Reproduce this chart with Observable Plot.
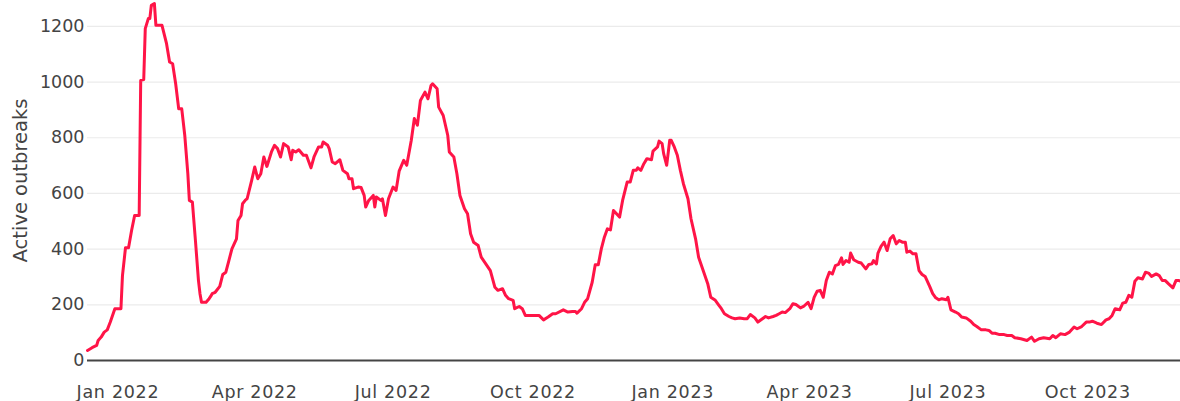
<!DOCTYPE html>
<html><head><meta charset="utf-8">
<script src="https://cdn.jsdelivr.net/npm/d3@7"></script>
<script src="https://cdn.jsdelivr.net/npm/@observablehq/plot@0.6"></script>
<style>html,body{margin:0;padding:0;background:#fff} svg{display:block}
g[aria-label="x-axis tick label"] text{letter-spacing:0.7px}</style>
</head><body><div id="chart"></div>
<script>
const dates = [
"2021-12-12","2021-12-15","2021-12-18","2021-12-19","2021-12-21","2021-12-23","2021-12-25","2021-12-27","2021-12-30",
"2022-01-03","2022-01-04","2022-01-06","2022-01-08","2022-01-10","2022-01-12","2022-01-15","2022-01-16","2022-01-18","2022-01-19","2022-01-21","2022-01-22","2022-01-23","2022-01-25","2022-01-26","2022-01-30",
"2022-02-02","2022-02-04","2022-02-06","2022-02-08","2022-02-10","2022-02-12","2022-02-14","2022-02-16","2022-02-17","2022-02-19","2022-02-21","2022-02-23","2022-02-24","2022-02-25","2022-02-28",
"2022-03-02","2022-03-03","2022-03-04","2022-03-06","2022-03-09","2022-03-11","2022-03-13","2022-03-15","2022-03-17","2022-03-20","2022-03-21","2022-03-23","2022-03-24","2022-03-26","2022-03-27","2022-03-30",
"2022-04-01","2022-04-03","2022-04-05","2022-04-07","2022-04-09","2022-04-12","2022-04-14","2022-04-16","2022-04-18","2022-04-20","2022-04-23","2022-04-25","2022-04-26","2022-04-28","2022-04-30",
"2022-05-03","2022-05-05","2022-05-08","2022-05-10","2022-05-13","2022-05-15","2022-05-16","2022-05-19","2022-05-20","2022-05-22","2022-05-24","2022-05-27","2022-05-29",
"2022-06-01","2022-06-02","2022-06-04","2022-06-05","2022-06-08","2022-06-10","2022-06-12","2022-06-13","2022-06-15","2022-06-18","2022-06-19","2022-06-20","2022-06-23","2022-06-24","2022-06-26","2022-06-28",
"2022-07-01","2022-07-03","2022-07-05","2022-07-08","2022-07-10","2022-07-13","2022-07-15","2022-07-17","2022-07-19","2022-07-22","2022-07-24","2022-07-26","2022-07-27","2022-07-30","2022-07-31",
"2022-08-03","2022-08-06","2022-08-07","2022-08-10","2022-08-12","2022-08-14","2022-08-17","2022-08-19","2022-08-21","2022-08-23","2022-08-26","2022-08-28","2022-08-31",
"2022-09-03","2022-09-06","2022-09-08","2022-09-11","2022-09-13","2022-09-15","2022-09-18","2022-09-19","2022-09-22","2022-09-24","2022-09-26","2022-09-30",
"2022-10-03","2022-10-05","2022-10-08","2022-10-11","2022-10-14","2022-10-16","2022-10-21","2022-10-24","2022-10-27","2022-10-29","2022-10-30",
"2022-11-02","2022-11-04","2022-11-06","2022-11-09","2022-11-11","2022-11-13","2022-11-15","2022-11-17","2022-11-19","2022-11-21","2022-11-23","2022-11-25","2022-11-27","2022-11-29",
"2022-12-02","2022-12-04","2022-12-06","2022-12-08","2022-12-09","2022-12-11","2022-12-13","2022-12-15","2022-12-18","2022-12-19","2022-12-22","2022-12-23","2022-12-25","2022-12-26","2022-12-28","2022-12-30","2022-12-31",
"2023-01-02","2023-01-04","2023-01-06","2023-01-08","2023-01-11","2023-01-13","2023-01-16","2023-01-18","2023-01-21","2023-01-24","2023-01-26","2023-01-29","2023-01-31",
"2023-02-02","2023-02-04","2023-02-07","2023-02-09","2023-02-11","2023-02-14","2023-02-17","2023-02-19","2023-02-21","2023-02-24","2023-02-26",
"2023-03-01","2023-03-03","2023-03-05","2023-03-08","2023-03-10","2023-03-12","2023-03-14","2023-03-16","2023-03-19","2023-03-21","2023-03-23","2023-03-26","2023-03-28","2023-03-31",
"2023-04-02","2023-04-04","2023-04-06","2023-04-08","2023-04-10","2023-04-12","2023-04-14","2023-04-16","2023-04-18","2023-04-20","2023-04-22","2023-04-23","2023-04-25","2023-04-27","2023-04-28","2023-04-30",
"2023-05-03","2023-05-05","2023-05-08","2023-05-10","2023-05-12","2023-05-13","2023-05-15","2023-05-16","2023-05-18","2023-05-20","2023-05-22","2023-05-24","2023-05-26","2023-05-28","2023-05-30",
"2023-06-01","2023-06-03","2023-06-04","2023-06-06","2023-06-08","2023-06-10","2023-06-12","2023-06-14","2023-06-16","2023-06-19","2023-06-21","2023-06-23","2023-06-25","2023-06-27","2023-06-30",
"2023-07-01","2023-07-03","2023-07-06","2023-07-08","2023-07-10","2023-07-13","2023-07-16","2023-07-18","2023-07-20","2023-07-23","2023-07-26","2023-07-28","2023-07-30",
"2023-08-01","2023-08-04","2023-08-07","2023-08-09","2023-08-12","2023-08-14","2023-08-18","2023-08-22","2023-08-25","2023-08-27","2023-08-30",
"2023-09-02","2023-09-06","2023-09-08","2023-09-10","2023-09-13","2023-09-16","2023-09-19","2023-09-22","2023-09-24","2023-09-27","2023-09-30",
"2023-10-02","2023-10-04","2023-10-07","2023-10-10","2023-10-13","2023-10-15","2023-10-17","2023-10-19","2023-10-22","2023-10-24","2023-10-26","2023-10-28","2023-10-30",
"2023-11-01","2023-11-03","2023-11-06","2023-11-08","2023-11-10","2023-11-12","2023-11-15","2023-11-17","2023-11-19","2023-11-21","2023-11-23","2023-11-26","2023-11-28","2023-11-30","2023-12-01"
];
const activeOutbreaks = [
36,46,54,72,84,102,110,138,186,
186,305,405,405,467,521,521,1006,1009,1192,1228,1228,1276,1282,1204,1204,
1138,1072,1066,994,904,904,808,671,575,569,431,287,240,209,209,
222,230,240,245,266,309,317,359,401,437,503,521,563,577,581,647,
695,653,671,731,697,749,773,761,731,779,767,721,755,749,757,
737,737,692,731,767,767,785,773,761,713,707,721,683,
671,653,653,617,623,621,593,551,575,593,551,587,575,581,521,581,
623,611,680,719,701,791,869,845,934,964,940,988,994,976,910,
880,808,749,731,671,593,545,527,455,425,413,371,347,
323,263,252,258,234,222,216,186,194,186,162,162,
162,162,146,156,168,168,182,174,176,176,170,
186,209,222,281,344,344,401,443,473,469,539,527,515,575,
641,641,683,683,692,683,707,725,721,752,767,788,779,743,701,791,791,
767,737,683,635,581,509,437,371,323,276,227,216,201,
186,168,158,153,150,153,150,150,165,153,138,
150,158,153,158,162,168,174,172,186,204,201,189,194,209,
186,227,249,252,227,287,317,311,341,345,369,345,359,353,386,362,
353,350,329,345,347,359,347,386,410,425,395,437,449,419,431,
425,425,389,393,383,383,323,309,302,266,240,225,218,222,218,
227,182,174,168,156,153,141,129,122,110,110,108,98,
98,93,93,90,90,82,78,72,84,69,78,
82,78,90,82,96,93,102,120,114,122,138,
138,141,134,129,146,150,162,186,182,206,209,234,227,
285,297,293,317,314,302,311,305,287,287,276,261,287,287,285
];
const yTicks = [0, 200, 400, 600, 800, 1000, 1200];
const xTicks = ["2022-01-01","2022-04-01","2022-07-01","2022-10-01","2023-01-01","2023-04-01","2023-07-01","2023-10-01"];
const yLabel = "Active outbreaks";

const data = dates.map((d, i) => ({date: new Date(d), value: activeOutbreaks[i]}));
const font = "'DejaVu Sans', Verdana, sans-serif";

const chart = Plot.plot({
  width: 1180, height: 401,
  marginLeft: 87, marginRight: 0, marginTop: 0, marginBottom: 41,
  style: {fontFamily: font, fontSize: "17.5px", color: "#444", background: "#fff", overflow: "visible"},
  x: {type: "utc", domain: [new Date("2021-12-12"), new Date("2023-12-01")]},
  y: {domain: [0, 1293]},
  marks: [
    Plot.gridY(yTicks.filter(d => d > 0), {stroke: "#ebebeb", strokeOpacity: 1, strokeWidth: 1.2}),
    Plot.axisY(yTicks, {tickSize: 0, tickPadding: 3, label: null, tickFormat: d => String(d), fontSize: 17.5, fill: "#444"}),
    Plot.axisX(xTicks.map(d => new Date(d)), {tickSize: 0, tickPadding: 25, label: null, tickFormat: d3.utcFormat("%b %Y"), fontSize: 17.5, fill: "#444"}),
    Plot.text([yLabel], {frameAnchor: "left", dx: -67, rotate: -90, fontSize: 19.5, fill: "#444", lineAnchor: "middle", textAnchor: "middle"}),
    Plot.ruleY([0], {stroke: "#444", strokeWidth: 2}),
    Plot.line(data, {x: "date", y: "value", stroke: "#ff1447", strokeWidth: 3, strokeLinejoin: "round"})
  ]
});
document.getElementById("chart").append(chart);
</script>
</body></html>
